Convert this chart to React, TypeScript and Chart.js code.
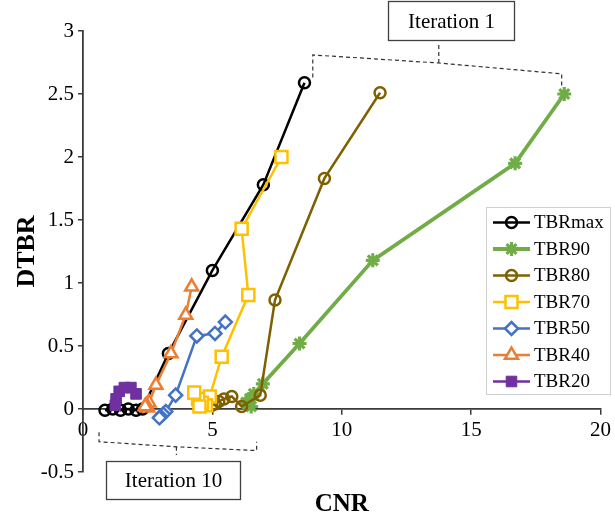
import React, { useEffect, useRef } from "react";
import { Chart, registerables } from "chart.js";
import { drawPoint } from "chart.js/helpers";

Chart.register(...registerables);

const FONT = "'Liberation Serif', 'Times New Roman', serif";

// ---- data ----
const seriesNames = ["TBRmax", "TBR90", "TBR80", "TBR70", "TBR50", "TBR40", "TBR20"];

const tbrMaxCNR = [8.56, 6.97, 5.0, 3.3, 2.3, 2.05, 1.75, 1.45, 1.15, 0.85];
const tbrMaxDTBR = [2.59, 1.78, 1.1, 0.44, 0.0, -0.01, 0.0, -0.01, 0.0, -0.01];

const tbr90CNR = [18.6, 16.7, 11.2, 8.37, 6.95, 6.6, 6.45, 6.3, 6.5, 6.35];
const tbr90DTBR = [2.5, 1.95, 1.18, 0.52, 0.2, 0.12, 0.08, 0.05, 0.02, 0.04];

const tbr80CNR = [11.48, 9.33, 7.42, 6.85, 6.13, 5.75, 5.45, 5.25, 5.1, 4.98];
const tbr80DTBR = [2.51, 1.83, 0.865, 0.11, 0.02, 0.1, 0.08, 0.06, 0.04, 0.03];

const tbr70CNR = [7.67, 6.13, 6.39, 5.36, 4.9, 4.75, 4.6, 4.45, 4.3, 4.5];
const tbr70DTBR = [2.0, 1.43, 0.905, 0.415, 0.1, 0.03, 0.05, 0.08, 0.13, 0.02];

const tbr50CNR = [5.5, 5.1, 4.4, 3.58, 3.2, 3.1, 3.0, 2.95];
const tbr50DTBR = [0.69, 0.6, 0.58, 0.11, -0.02, -0.04, -0.06, -0.07];

const tbr40CNR = [4.2, 3.97, 3.4, 2.82, 2.55, 2.45, 2.5, 2.4];
const tbr40DTBR = [0.97, 0.746, 0.44, 0.19, 0.05, 0.03, 0.01, 0.02];

const tbr20CNR = [2.05, 1.85, 1.6, 1.4, 1.28, 1.25];
const tbr20DTBR = [0.12, 0.17, 0.17, 0.14, 0.08, 0.03];

const xTickValues = [0, 5, 10, 15, 20];
const yTickValues = [-0.5, 0, 0.5, 1, 1.5, 2, 2.5, 3];

const noteLabels = ["Iteration 1", "Iteration 10"];

// ---- styles ----
type Style = {
  color: string;
  pointStyle: string;
  radius: number;
  fill: string;
  lineWidth: number;
  borderWidth: number;
};
const styles: Style[] = [
  { color: "#000000", pointStyle: "circle", radius: 5.5, fill: "rgba(0,0,0,0)", lineWidth: 2.5, borderWidth: 2.5 },
  { color: "#70AD47", pointStyle: "star", radius: 7, fill: "#70AD47", lineWidth: 3.8, borderWidth: 3.2 },
  { color: "#7F6000", pointStyle: "circle", radius: 5.5, fill: "rgba(0,0,0,0)", lineWidth: 2.5, borderWidth: 2.5 },
  { color: "#FFC000", pointStyle: "rect", radius: 8.5, fill: "#ffffff", lineWidth: 2.5, borderWidth: 2.5 },
  { color: "#4472C4", pointStyle: "rectRot", radius: 6.5, fill: "#ffffff", lineWidth: 2.5, borderWidth: 2.5 },
  { color: "#ED7D31", pointStyle: "triangle", radius: 7.5, fill: "#ffffff", lineWidth: 2.5, borderWidth: 2.5 },
  { color: "#7030A0", pointStyle: "rect", radius: 7.5, fill: "#7030A0", lineWidth: 2.5, borderWidth: 1 },
];

const seriesX = [tbrMaxCNR, tbr90CNR, tbr80CNR, tbr70CNR, tbr50CNR, tbr40CNR, tbr20CNR];
const seriesY = [tbrMaxDTBR, tbr90DTBR, tbr80DTBR, tbr70DTBR, tbr50DTBR, tbr40DTBR, tbr20DTBR];

const datasets = seriesNames.map((name, i) => ({
  label: name,
  data: seriesX[i].map((x, j) => ({ x, y: seriesY[i][j] })),
  showLine: true,
  borderColor: styles[i].color,
  backgroundColor: styles[i].color,
  borderWidth: styles[i].lineWidth,
  pointStyle: styles[i].pointStyle as any,
  pointRadius: styles[i].radius,
  pointBorderColor: styles[i].color,
  pointBackgroundColor: styles[i].fill,
  pointBorderWidth: styles[i].borderWidth,
  order: 10 - i,
}));

const AXIS = "#3a3a3a";

const overlay = {
  id: "overlay",
  afterDraw(chart: any) {
    const { ctx, scales, chartArea } = chart;
    const sx = scales.x;
    const sy = scales.y;
    const px = (v: number) => sx.getPixelForValue(v);
    const py = (v: number) => sy.getPixelForValue(v);
    ctx.save();

    // dashed braces (data units)
    const braces: number[][][] = [
      [[8.88, 2.63], [8.88, 2.81], [13.75, 2.746], [18.5, 2.66], [18.5, 2.55]],
      [[13.75, 2.746], [13.75, 2.9]],
      [[0.62, -0.185], [0.62, -0.26], [3.61, -0.3], [6.71, -0.33], [6.71, -0.26]],
      [[3.61, -0.3], [3.61, -0.365]],
    ];
    ctx.strokeStyle = "#333";
    ctx.lineWidth = 1.2;
    ctx.setLineDash([4, 3]);
    for (const path of braces) {
      ctx.beginPath();
      path.forEach(([a, b], k) => (k ? ctx.lineTo(px(a), py(b)) : ctx.moveTo(px(a), py(b))));
      ctx.stroke();
    }
    ctx.setLineDash([]);

    // note boxes (data units)
    const boxes = [
      { x0: 11.77, x1: 16.64, y0: 3.238, y1: 2.929, text: noteLabels[0] },
      { x0: 0.87, x1: 6.08, y0: -0.413, y1: -0.714, text: noteLabels[1] },
    ];
    ctx.font = `21px ${FONT}`;
    ctx.textAlign = "center";
    ctx.textBaseline = "middle";
    for (const b of boxes) {
      const l = Math.round(px(b.x0)) + 0.5;
      const r = Math.round(px(b.x1)) + 0.5;
      const t = Math.round(py(b.y0)) + 0.5;
      const bt = Math.round(py(b.y1)) + 0.5;
      ctx.fillStyle = "#fff";
      ctx.fillRect(l, t, r - l, bt - t);
      ctx.strokeStyle = "#404040";
      ctx.lineWidth = 1.3;
      ctx.strokeRect(l, t, r - l, bt - t);
      ctx.fillStyle = "#000";
      ctx.fillText(b.text, (l + r) / 2, (t + bt) / 2 + 1);
    }

    // legend
    const lx = 486, ly = 207, lw = 124, lh = 187;
    ctx.fillStyle = "#fff";
    ctx.fillRect(lx, ly, lw, lh);
    ctx.strokeStyle = "#d0d0d0";
    ctx.lineWidth = 1;
    ctx.strokeRect(lx + 0.5, ly + 0.5, lw, lh);
    ctx.font = `19px ${FONT}`;
    ctx.textAlign = "left";
    ctx.textBaseline = "middle";
    seriesNames.forEach((name, i) => {
      const s = styles[i];
      const yy = 222.5 + i * 26.5;
      ctx.strokeStyle = s.color;
      ctx.lineWidth = s.lineWidth;
      ctx.beginPath();
      ctx.moveTo(493, yy);
      ctx.lineTo(530, yy);
      ctx.stroke();
      ctx.fillStyle = s.fill;
      ctx.strokeStyle = s.color;
      ctx.lineWidth = s.borderWidth;
      drawPoint(ctx, { pointStyle: s.pointStyle as any, radius: s.radius, rotation: 0, borderWidth: s.borderWidth }, 511.5, yy);
      ctx.fillStyle = "#000";
      ctx.fillText(name, 534, yy + 1);
    });

    // x axis title
    ctx.font = `bold 25px ${FONT}`;
    ctx.textAlign = "center";
    ctx.textBaseline = "middle";
    ctx.fillStyle = "#000";
    ctx.fillText("CNR", (chartArea.left + chartArea.right) / 2, 505);

    ctx.restore();
  },
};

export default function App() {
  const ref = useRef<HTMLCanvasElement>(null);
  useEffect(() => {
    if (!ref.current) return;
    const chart = new Chart(ref.current, {
      type: "scatter",
      data: { datasets: datasets as any },
      options: {
        responsive: false,
        animation: false,
        devicePixelRatio: 1,
        layout: { padding: { top: 31, right: 13, bottom: 49, left: 0 } },
        plugins: { legend: { display: false }, tooltip: { enabled: false } },
        scales: {
          x: {
            type: "linear",
            position: { y: 0 } as any,
            min: 0,
            max: 20,
            afterBuildTicks: (s: any) => {
              s.ticks = xTickValues.map((v) => ({ value: v }));
            },
            ticks: {
              font: { family: FONT, size: 21 },
              color: "#000",
              padding: 4,
              maxRotation: 0,
              autoSkip: false,
              callback: (v: any) => String(v),
            },
            grid: { drawOnChartArea: false, tickLength: 5, color: AXIS, lineWidth: 1.5 },
            border: { color: AXIS, width: 1.8 },
          },
          y: {
            type: "linear",
            position: "left",
            min: -0.5,
            max: 3,
            afterBuildTicks: (s: any) => {
              s.ticks = yTickValues.map((v) => ({ value: v }));
            },
            afterFit: (s: any) => {
              s.width = 83;
            },
            title: {
              display: true,
              text: "DTBR",
              color: "#000",
              font: { family: FONT, size: 26, weight: "bold" },
              padding: { top: 12, bottom: 0 },
            },
            ticks: {
              font: { family: FONT, size: 21 },
              color: "#000",
              padding: 4,
              autoSkip: false,
              callback: (v: any) => String(v),
            },
            grid: { drawOnChartArea: false, tickLength: 5, color: AXIS, lineWidth: 1.5 },
            border: { color: AXIS, width: 1.8 },
          },
        },
      },
      plugins: [overlay],
    });
    return () => chart.destroy();
  }, []);
  return (
    <div style={{ position: "absolute", left: 0, top: 0, width: 615, height: 521, background: "#fff" }}>
      <canvas ref={ref} width={615} height={521} style={{ display: "block", width: 615, height: 521 }} />
    </div>
  );
}
